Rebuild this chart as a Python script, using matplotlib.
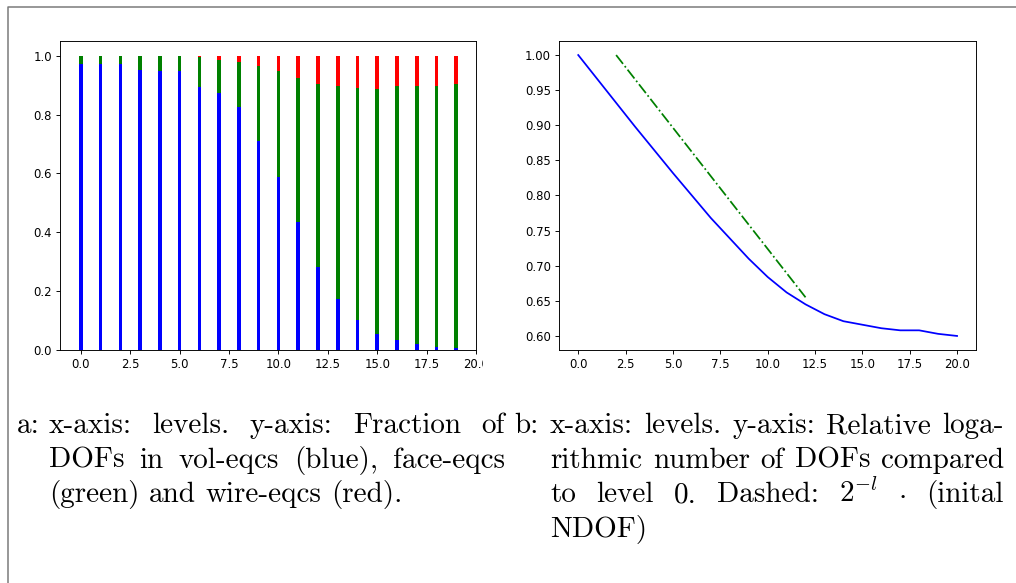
import matplotlib
matplotlib.use("Agg")
import matplotlib.pyplot as plt
from matplotlib.transforms import IdentityTransform, Bbox
from matplotlib.lines import Line2D

# ---------------- data ----------------
levels_a = list(range(20))
vol_frac = [0.972, 0.972, 0.972, 0.951, 0.947, 0.947, 0.894, 0.874, 0.825, 0.709,
            0.587, 0.436, 0.281, 0.175, 0.102, 0.053, 0.034, 0.020, 0.010, 0.007]
face_frac = [0.028, 0.028, 0.028, 0.047, 0.051, 0.051, 0.101, 0.110, 0.153, 0.256,
             0.360, 0.489, 0.622, 0.723, 0.789, 0.835, 0.864, 0.876, 0.886, 0.896]
wire_frac = [0.000, 0.000, 0.000, 0.002, 0.002, 0.002, 0.005, 0.016, 0.022, 0.035,
             0.053, 0.075, 0.097, 0.102, 0.109, 0.112, 0.102, 0.104, 0.104, 0.097]

levels_b = list(range(21))
rel_log_ndof = [1.000, 0.966, 0.932, 0.898, 0.865, 0.832, 0.800, 0.768, 0.739, 0.710,
                0.684, 0.662, 0.645, 0.631, 0.621, 0.616, 0.611, 0.608, 0.608, 0.603,
                0.600]
levels_ref = [2, 3, 4, 5, 6, 7, 8, 9, 10, 11, 12]
ref_ndof = [1.000, 0.9655, 0.931, 0.8965, 0.862, 0.8275, 0.793, 0.7585, 0.724,
            0.6895, 0.655]

caption_a = [
    ["x-axis:", "levels.", "y-axis:", "Fraction", "of"],
    ["DOFs", "in", "vol-eqcs", "(blue),", "face-eqcs"],
    ["(green)", "and", "wire-eqcs", "(red)."],
]
caption_b = [
    ["x-axis:", "levels.", "y-axis:", "Relative", "loga-"],
    ["rithmic", "number", "of", "DOFs", "compared"],
    ["to", "level", "0.", "Dashed:", r"$2^{-l}$", r"$\cdot$", "(inital"],
    ["NDOF)"],
]

# ---------------- figure ----------------
W, H = 1016, 583
plt.rcParams['mathtext.fontset'] = 'cm'
s = 0.84
plt.rcParams['font.size'] = 10 * s
plt.rcParams['xtick.major.size'] = 3.5 * s
plt.rcParams['ytick.major.size'] = 3.5 * s
plt.rcParams['xtick.major.width'] = 0.8 * s
plt.rcParams['ytick.major.width'] = 0.8 * s
plt.rcParams['axes.linewidth'] = 0.8 * s
plt.rcParams['xtick.major.pad'] = 3.5 * s
plt.rcParams['ytick.major.pad'] = 3.5 * s

fig = plt.figure(figsize=(W / 100, H / 100), dpi=100)


def axes_px(x0, y0, x1, y1):
    return fig.add_axes([x0 / W, (H - y1) / H, (x1 - x0) / W, (y1 - y0) / H])


# panel a
ax1 = axes_px(60, 41, 476, 350)
bw = 0.18
bottoms2 = vol_frac
bottoms3 = [v + f for v, f in zip(vol_frac, face_frac)]
ax1.bar(levels_a, vol_frac, width=bw, color='blue')
ax1.bar(levels_a, face_frac, width=bw, bottom=bottoms2, color='green')
ax1.bar(levels_a, wire_frac, width=bw, bottom=bottoms3, color='red')
ax1.set_xlim(-1.06, 20)
ax1.set_ylim(0, 1.05)
ax1.set_xticks([0, 2.5, 5, 7.5, 10, 12.5, 15, 17.5, 20])
ax1.set_yticks([0, 0.2, 0.4, 0.6, 0.8, 1.0])

# panel b
ax2 = axes_px(559.3, 41, 976, 350)
ax2.plot(levels_b, rel_log_ndof, color='blue', lw=1.5 * s)
ax2.plot(levels_ref, ref_ndof, color='green', ls='-.', lw=1.5 * s)

# border frame
fig.add_artist(Line2D([7.7 / W, 7.7 / W, 1.0], [0.0, 1 - 6.5 / H, 1 - 6.5 / H],
                      transform=fig.transFigure, color='#7a7a7a', lw=1.1))

# captions
renderer = fig.canvas.get_renderer()
fs = 21.0
cm = 'cmr10'


def put(x, ybase, txt):
    t = fig.text(x, H - ybase, txt, transform=IdentityTransform(), fontsize=fs,
                 family=cm, va='baseline', ha='left')
    return t


def line(words, x0, x1, ybase, justify=True):
    texts = [put(0, ybase, w) for w in words]
    widths = [t.get_window_extent(renderer).width for t in texts]
    if justify and len(words) > 1:
        gap = (x1 - x0 - sum(widths)) / (len(words) - 1)
    else:
        gap = fs * 100 / 72 * 0.333
    x = x0
    for t, w in zip(texts, widths):
        t.set_x(x)
        x += w + gap


base0 = 433
dy = 34.6
put(17, base0, "a:")
for i, words in enumerate(caption_a):
    line(words, 49, 505, base0 + i * dy, justify=(i < len(caption_a) - 1))
put(514, base0, "b:")
for i, words in enumerate(caption_b):
    line(words, 550, 1004, base0 + i * dy, justify=(i < len(caption_b) - 1))

fig.canvas.draw()
for lab in ax1.get_xticklabels():
    lab.set_clip_on(True)
    lab.set_clip_box(Bbox([[0, 0], [483, H]]))

fig.savefig("out.png", dpi=100)
